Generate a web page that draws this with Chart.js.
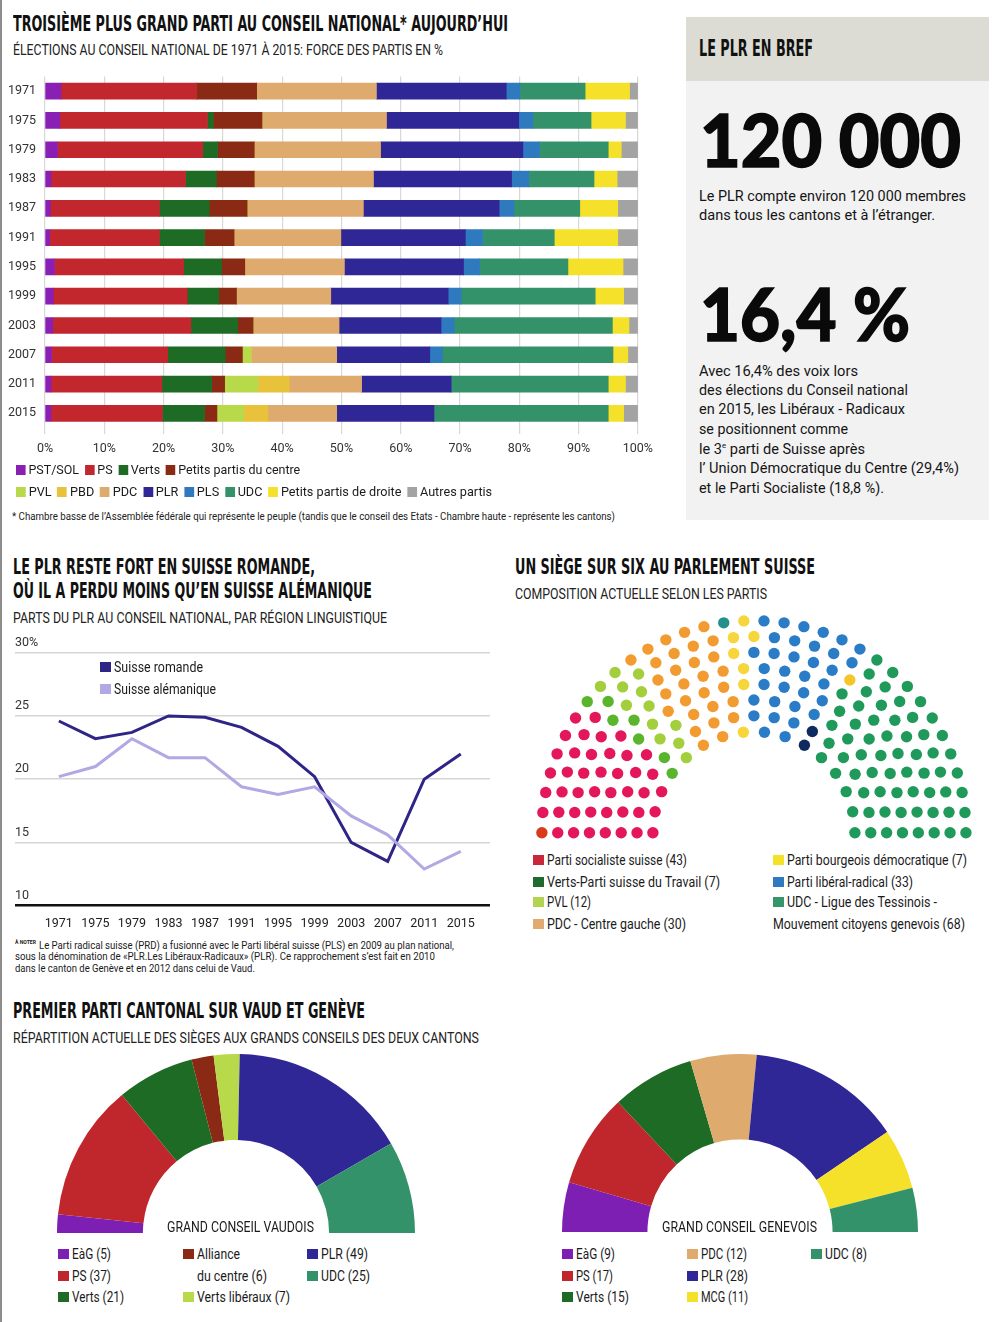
<!DOCTYPE html>
<html lang="fr">
<head>
<meta charset="utf-8">
<title>Le PLR en chiffres</title>
<script src="https://cdn.jsdelivr.net/npm/chart.js@4.4.0/dist/chart.umd.min.js"></script>
<style>
  html, body { margin: 0; padding: 0; background: #fff; }
  body { width: 1000px; height: 1322px; position: relative; overflow: hidden;
         font-family: Roboto, 'Liberation Sans', sans-serif; color: #1b1b1b; }
  .edge { position: absolute; left: 0; top: 0; width: 2px; height: 1322px; background: #8d8d8d; }
  .t { position: absolute; white-space: nowrap; line-height: 1; transform-origin: 0 50%; }
  .h { font-family: 'DejaVu Sans Condensed', 'DejaVu Sans', sans-serif; font-weight: bold; font-size: 22px; color: #111; }
  .s { font-size: 14px; color: #222; }
  .l { font-size: 14px; color: #1b1b1b; }
  .big { font-family: Lato, Inter, Roboto, sans-serif; font-size: 72px; font-weight: 900; color: #0a0a0a;
         -webkit-text-stroke: 1.5px #0a0a0a; }
  .p { font-size: 15px; color: #151515; }
  .sq { position: absolute; width: 11px; height: 10px; }
  .row { position: absolute; white-space: nowrap; line-height: 1; transform-origin: 0 50%; font-size: 13px; display: flex; align-items: center; }
  .row i { display: inline-block; width: 10px; height: 10px; margin: 0 3px 0 0; }
  .row span { margin-right: 6px; }
  canvas { position: absolute; }
  .box { position: absolute; }
</style>
</head>
<body>
<div class="edge"></div>

<!-- top: stacked bars -->
<div class="t h" style="left:13px;top:14px;font-size:21px" data-w="495">TROISIÈME PLUS GRAND PARTI AU CONSEIL NATIONAL* AUJOURD’HUI</div>
<div class="t s" style="left:13px;top:43px" data-w="430">ÉLECTIONS AU CONSEIL NATIONAL DE 1971 À 2015: FORCE DES PARTIS EN %</div>
<canvas id="bars" width="660" height="394" style="left:0;top:69px"></canvas>
<div class="row" style="left:16px;top:463px" data-w="290">
  <i style="background:#8a1fb5"></i><span>PST/SOL</span>
  <i style="background:#c1272d"></i><span>PS</span>
  <i style="background:#1e6b26"></i><span>Verts</span>
  <i style="background:#8b2a14"></i><span>Petits partis du centre</span>
</div>
<div class="row" style="left:16px;top:485px" data-w="482">
  <i style="background:#b8d94a"></i><span>PVL</span>
  <i style="background:#e8c23a"></i><span>PBD</span>
  <i style="background:#deaa6e"></i><span>PDC</span>
  <i style="background:#302796"></i><span>PLR</span>
  <i style="background:#2f79bf"></i><span>PLS</span>
  <i style="background:#34926a"></i><span>UDC</span>
  <i style="background:#f5e12a"></i><span>Petits partis de droite</span>
  <i style="background:#a3a3a3"></i><span>Autres partis</span>
</div>
<div class="t" style="left:12px;top:512px;font-size:10px;color:#222" data-w="603">* Chambre basse de l’Assemblée fédérale qui représente le peuple (tandis que le conseil des Etats - Chambre haute - représente les cantons)</div>

<!-- right panel -->
<div class="box" style="left:686px;top:17px;width:303px;height:64px;background:#dcdcd5"></div>
<div class="box" style="left:686px;top:81px;width:303px;height:439px;background:#f2f2f2"></div>
<div class="t h" style="left:699px;top:37px;font-size:23px" data-w="114">LE PLR EN BREF</div>
<div class="t big" style="left:700px;top:103px" data-w="261">120 000</div>
<div class="t p" style="left:699px;top:189px" data-w="267">Le PLR compte environ 120 000 membres</div>
<div class="t p" style="left:699px;top:208px" data-w="236">dans tous les cantons et à l’étranger.</div>
<div class="t big" style="left:700px;top:277px" data-w="210">16,4 %</div>
<div class="t p" style="left:699px;top:364px" data-w="159">Avec 16,4% des voix lors</div>
<div class="t p" style="left:699px;top:383px" data-w="209">des élections du Conseil national</div>
<div class="t p" style="left:699px;top:402px" data-w="206">en 2015, les Libéraux - Radicaux</div>
<div class="t p" style="left:699px;top:422px" data-w="149">se positionnent comme</div>
<div class="t p" style="left:699px;top:442px" data-w="166">le 3<sup style="font-size:8px">e</sup> parti de Suisse après</div>
<div class="t p" style="left:699px;top:461px" data-w="260">l’ Union Démocratique du Centre (29,4%)</div>
<div class="t p" style="left:699px;top:481px" data-w="185">et le Parti Socialiste (18,8 %).</div>

<!-- middle left: line chart -->
<div class="t h" style="left:13px;top:556px" data-w="302">LE PLR RESTE FORT EN SUISSE ROMANDE,</div>
<div class="t h" style="left:13px;top:580px" data-w="359">OÙ IL A PERDU MOINS QU’EN SUISSE ALÉMANIQUE</div>
<div class="t s" style="left:13px;top:611px" data-w="374">PARTS DU PLR AU CONSEIL NATIONAL, PAR RÉGION LINGUISTIQUE</div>
<canvas id="lines" width="490" height="305" style="left:0;top:630px"></canvas>
<div class="sq" style="left:100px;top:662px;background:#2e2586"></div>
<div class="t l" style="left:114px;top:660px" data-w="89">Suisse romande</div>
<div class="sq" style="left:100px;top:684px;background:#b1a8e4"></div>
<div class="t l" style="left:114px;top:682px" data-w="102">Suisse alémanique</div>
<div class="t" style="left:15px;top:939px;font-size:6px;font-weight:bold" data-w="21">À NOTER</div>
<div class="t" style="left:39px;top:940px;font-size:11px" data-w="415">Le Parti radical suisse (PRD) a fusionné avec le Parti libéral suisse (PLS) en 2009 au plan national,</div>
<div class="t" style="left:15px;top:951px;font-size:11px" data-w="420">sous la dénomination de «PLR.Les Libéraux-Radicaux» (PLR). Ce rapprochement s’est fait en 2010</div>
<div class="t" style="left:15px;top:963px;font-size:11px" data-w="240">dans le canton de Genève et en 2012 dans celui de Vaud.</div>

<!-- middle right: parliament -->
<div class="t h" style="left:515px;top:556px" data-w="300">UN SIÈGE SUR SIX AU PARLEMENT SUISSE</div>
<div class="t s" style="left:515px;top:587px" data-w="252">COMPOSITION ACTUELLE SELON LES PARTIS</div>
<canvas id="seats" width="470" height="235" style="left:520px;top:610px"></canvas>
<div class="sq" style="left:533px;top:855px;background:#c8283a"></div>
<div class="t l" style="left:547px;top:853px" data-w="140">Parti socialiste suisse (43)</div>
<div class="sq" style="left:533px;top:877px;background:#1f6b2d"></div>
<div class="t l" style="left:547px;top:875px" data-w="173">Verts-Parti suisse du Travail (7)</div>
<div class="sq" style="left:533px;top:897px;background:#b3d451"></div>
<div class="t l" style="left:547px;top:895px" data-w="44">PVL (12)</div>
<div class="sq" style="left:533px;top:919px;background:#e0aa70"></div>
<div class="t l" style="left:547px;top:917px" data-w="139">PDC - Centre gauche (30)</div>
<div class="sq" style="left:773px;top:855px;background:#f3e227"></div>
<div class="t l" style="left:787px;top:853px" data-w="180">Parti bourgeois démocratique (7)</div>
<div class="sq" style="left:773px;top:877px;background:#2f79be"></div>
<div class="t l" style="left:787px;top:875px" data-w="126">Parti libéral-radical (33)</div>
<div class="sq" style="left:773px;top:897px;background:#36956a"></div>
<div class="t l" style="left:787px;top:895px" data-w="150">UDC - Ligue des Tessinois -</div>
<div class="t l" style="left:773px;top:917px" data-w="192">Mouvement citoyens genevois (68)</div>

<!-- bottom: cantonal half donuts -->
<div class="t h" style="left:13px;top:1000px" data-w="352">PREMIER PARTI CANTONAL SUR VAUD ET GENÈVE</div>
<div class="t s" style="left:13px;top:1031px" data-w="466">RÉPARTITION ACTUELLE DES SIÈGES AUX GRANDS CONSEILS DES DEUX CANTONS</div>
<canvas id="vaud" width="358" height="179" style="left:57px;top:1054px"></canvas>
<canvas id="geneve" width="356" height="178" style="left:562px;top:1054px"></canvas>
<div class="t l" style="left:167px;top:1220px" data-w="147">GRAND CONSEIL VAUDOIS</div>
<div class="t l" style="left:662px;top:1220px" data-w="155">GRAND CONSEIL GENEVOIS</div>

<div class="sq" style="left:58px;top:1249px;background:#7d1fb3"></div>
<div class="t l" style="left:72px;top:1247px" data-w="39">EàG (5)</div>
<div class="sq" style="left:58px;top:1271px;background:#c0272d"></div>
<div class="t l" style="left:72px;top:1269px" data-w="39">PS (37)</div>
<div class="sq" style="left:58px;top:1292px;background:#1e6b26"></div>
<div class="t l" style="left:72px;top:1290px" data-w="52">Verts (21)</div>
<div class="sq" style="left:183px;top:1249px;background:#8b2a14"></div>
<div class="t l" style="left:197px;top:1247px" data-w="43">Alliance</div>
<div class="t l" style="left:197px;top:1269px" data-w="70">du centre (6)</div>
<div class="sq" style="left:183px;top:1292px;background:#b8d94a"></div>
<div class="t l" style="left:197px;top:1290px" data-w="93">Verts libéraux (7)</div>
<div class="sq" style="left:307px;top:1249px;background:#302796"></div>
<div class="t l" style="left:321px;top:1247px" data-w="47">PLR (49)</div>
<div class="sq" style="left:307px;top:1271px;background:#34926a"></div>
<div class="t l" style="left:321px;top:1269px" data-w="49">UDC (25)</div>

<div class="sq" style="left:562px;top:1249px;background:#7d1fb3"></div>
<div class="t l" style="left:576px;top:1247px" data-w="39">EàG (9)</div>
<div class="sq" style="left:562px;top:1271px;background:#c0272d"></div>
<div class="t l" style="left:576px;top:1269px" data-w="37">PS (17)</div>
<div class="sq" style="left:562px;top:1292px;background:#1e6b26"></div>
<div class="t l" style="left:576px;top:1290px" data-w="53">Verts (15)</div>
<div class="sq" style="left:687px;top:1249px;background:#deaa6e"></div>
<div class="t l" style="left:701px;top:1247px" data-w="46">PDC (12)</div>
<div class="sq" style="left:687px;top:1271px;background:#302796"></div>
<div class="t l" style="left:701px;top:1269px" data-w="47">PLR (28)</div>
<div class="sq" style="left:687px;top:1292px;background:#f5e12a"></div>
<div class="t l" style="left:701px;top:1290px" data-w="47">MCG (11)</div>
<div class="sq" style="left:811px;top:1249px;background:#34926a"></div>
<div class="t l" style="left:825px;top:1247px" data-w="42">UDC (8)</div>

<script>
// party strength in % (Conseil national), one array per party
const years = ['1971', '1975', '1979', '1983', '1987', '1991', '1995', '1999', '2003', '2007', '2011', '2015'];
const pstSol = [2.7, 2.5, 2.1, 1.0, 0.9, 0.8, 1.6, 1.4, 1.3, 1.1, 1.0, 1.0];
const ps = [22.9, 24.9, 24.5, 22.7, 18.4, 18.5, 21.8, 22.6, 23.3, 19.6, 18.7, 18.8];
const verts = [0, 1.0, 2.5, 5.2, 8.4, 7.6, 6.4, 5.3, 7.9, 9.7, 8.4, 7.1];
const centre = [10.1, 8.2, 6.2, 6.4, 6.4, 5.0, 3.9, 3.0, 2.6, 2.9, 2.2, 2.1];
const pvl = [0, 0, 0, 0, 0, 0, 0, 0, 0, 1.5, 5.6, 4.5];
const pbd = [0, 0, 0, 0, 0, 0, 0, 0, 0, 0, 5.3, 4.1];
const pdc = [20.2, 21.0, 21.3, 20.1, 19.6, 18.0, 16.8, 15.9, 14.5, 14.4, 12.2, 11.6];
const plr = [21.9, 22.3, 24.0, 23.3, 22.9, 21.0, 20.1, 19.8, 17.2, 15.7, 15.1, 16.4];
const pls = [2.3, 2.4, 2.8, 2.9, 2.5, 2.9, 2.7, 2.2, 2.2, 2.1, 0, 0];
const udc = [11.0, 9.8, 11.6, 11.0, 11.1, 12.1, 14.9, 22.6, 26.7, 28.8, 26.5, 29.4];
const droite = [7.5, 5.8, 2.2, 3.9, 6.4, 10.7, 9.3, 4.8, 2.8, 2.5, 2.9, 2.6];
const autres = [1.4, 2.1, 2.8, 3.5, 3.4, 3.4, 2.5, 2.4, 1.5, 1.7, 2.1, 2.4];

// PLR share by language region
const lineYears = [1971, 1975, 1979, 1983, 1987, 1991, 1995, 1999, 2003, 2007, 2011, 2015];
const romande = [24.6, 23.2, 23.7, 25.0, 24.9, 24.1, 22.6, 20.2, 15.0, 13.5, 20.0, 22.0];
const alemanique = [20.2, 21.0, 23.2, 21.7, 21.7, 19.4, 18.8, 19.4, 17.1, 15.6, 12.9, 14.3];

// seats in the Conseil national (200), left to right
const seatGroups = ['PST', 'PS', 'Verts', 'PVL', 'PDC', 'PCS', 'PBD', 'PLR', 'Lega', 'MCG', 'UDC'];
const seatCounts = [1, 42, 7, 12, 29, 1, 7, 33, 2, 1, 65];
const seatColors = ['#d93a1c', '#e3175a', '#5ab52c', '#a2cf3b', '#f29b30', '#23908c', '#f6d63a', '#2a7cc6', '#0e2a5e', '#f5c62a', '#1f9a5a'];

// cantonal parliaments
const vaudLabels = ['EàG', 'PS', 'Verts', 'Alliance du centre', 'Verts libéraux', 'PLR', 'UDC'];
const vaudSeats = [5, 37, 21, 6, 7, 49, 25];
const vaudColors = ['#7d1fb3', '#c0272d', '#1e6b26', '#8b2a14', '#b8d94a', '#302796', '#34926a'];
const geneveLabels = ['EàG', 'PS', 'Verts', 'PDC', 'PLR', 'MCG', 'UDC'];
const geneveSeats = [9, 17, 15, 12, 28, 11, 8];
const geneveColors = ['#7d1fb3', '#c0272d', '#1e6b26', '#deaa6e', '#302796', '#f5e12a', '#34926a'];

Chart.defaults.font.family = 'Roboto';
Chart.defaults.color = '#2a2a2a';
Chart.defaults.animation = false;
Chart.defaults.plugins.legend.display = false;
Chart.defaults.plugins.tooltip.enabled = false;

function fitText() {
    document.querySelectorAll('[data-w]').forEach(el => {
        const w = parseFloat(el.dataset.w);
        const cur = el.getBoundingClientRect().width;
        if (cur > 0) el.style.transform = 'scaleX(' + (w / cur) + ')';
    });
}

window.addEventListener('load', () => {
    fitText();

    // 1. stacked bars
    const partyNames = ['PST/SOL', 'PS', 'Verts', 'Petits partis du centre', 'PVL', 'PBD', 'PDC', 'PLR', 'PLS', 'UDC', 'Petits partis de droite', 'Autres partis'];
    const partySeries = [pstSol, ps, verts, centre, pvl, pbd, pdc, plr, pls, udc, droite, autres];
    const partyColors = ['#8a1fb5', '#c1272d', '#1e6b26', '#8b2a14', '#b8d94a', '#e8c23a', '#deaa6e', '#302796', '#2f79bf', '#34926a', '#f5e12a', '#a3a3a3'];

    new Chart(document.getElementById('bars'), {
        type: 'bar',
        data: {
            labels: years,
            datasets: partyNames.map((name, i) => ({
                label: name,
                data: partySeries[i],
                backgroundColor: partyColors[i],
                borderWidth: 0,
                barThickness: 16
            }))
        },
        options: {
            indexAxis: 'y',
            responsive: false,
            layout: { autoPadding: false, padding: { left: 8, right: 17, top: 7.4, bottom: 0 } },
            scales: {
                x: {
                    stacked: true, min: 0, max: 100,
                    grid: { color: '#d8d8d8', lineWidth: 1.2, tickLength: 6 },
                    border: { display: false },
                    ticks: { stepSize: 10, padding: 7, color: '#333', font: { size: 12.5 }, callback: v => v + '%' },
                    afterFit: s => { s.height = 35; }
                },
                y: {
                    stacked: true,
                    grid: { display: false, drawTicks: false },
                    border: { display: false },
                    ticks: { crossAlign: 'far', padding: 0, color: '#333', font: { size: 12.5 } },
                    afterFit: s => { s.width = 37; }
                }
            }
        }
    });

    // 2. PLR share by language region
    new Chart(document.getElementById('lines'), {
        type: 'line',
        data: {
            datasets: [
                { label: 'Suisse alémanique', data: lineYears.map((y, i) => ({ x: y, y: alemanique[i] })), borderColor: '#b1a8e4', borderWidth: 3, pointRadius: 0, tension: 0 },
                { label: 'Suisse romande', data: lineYears.map((y, i) => ({ x: y, y: romande[i] })), borderColor: '#2e2586', borderWidth: 3, pointRadius: 0, tension: 0 }
            ]
        },
        options: {
            responsive: false,
            layout: { autoPadding: false, padding: { left: 15, right: 0, top: 22.7, bottom: 0 } },
            scales: {
                x: {
                    type: 'linear', min: 1966.2, max: 2018.2,
                    grid: { display: false, drawTicks: false },
                    border: { display: false },
                    afterBuildTicks: axis => { axis.ticks = lineYears.map(v => ({ value: v })); },
                    ticks: { padding: 11, color: '#222', font: { size: 12.5 }, callback: v => String(v) },
                    afterFit: s => { s.height = 29.3; }
                },
                y: {
                    min: 10, max: 30,
                    grid: {
                        drawTicks: false,
                        color: c => c.tick.value === 10 ? '#111' : '#d6d6d6',
                        lineWidth: c => c.tick.value === 10 ? 2.5 : 1.5
                    },
                    border: { display: false },
                    ticks: { stepSize: 5, mirror: true, padding: 0, labelOffset: -10, color: '#333', font: { size: 12.5 },
                             callback: v => v === 30 ? '30%' : String(v) },
                    afterFit: s => { s.width = 0; }
                }
            }
        }
    });

    // 3. parliament: seats laid out on 8 concentric rows, filled by angle
    const seatRows = 8, innerR = 101, rowGap = 15.86;
    const total = seatCounts.reduce((a, b) => a + b, 0);
    const radii = Array.from({ length: seatRows }, (_, i) => innerR + i * rowGap);
    const sumR = radii.reduce((a, b) => a + b, 0);
    const perRow = radii.map(r => Math.round(total * r / sumR));
    perRow[seatRows - 1] += total - perRow.reduce((a, b) => a + b, 0);
    const spots = [];
    radii.forEach((r, i) => {
        const n = perRow[i];
        for (let j = 0; j < n; j++) {
            const a = Math.PI * (1 - j / (n - 1));
            spots.push({ a: a, r: r, x: r * Math.cos(a), y: r * Math.sin(a) });
        }
    });
    spots.sort((p, q) => Math.abs(q.a - p.a) > 1e-9 ? q.a - p.a : q.r - p.r);
    let k = 0;
    const seatSets = seatGroups.map((g, i) => {
        const pts = spots.slice(k, k + seatCounts[i]).map(s => ({ x: s.x, y: s.y }));
        k += seatCounts[i];
        return { label: g, data: pts, backgroundColor: seatColors[i], pointRadius: 5.7, borderWidth: 0, clip: false };
    });
    new Chart(document.getElementById('seats'), {
        type: 'scatter',
        data: { datasets: seatSets },
        options: {
            responsive: false,
            layout: { autoPadding: false, padding: 0 },
            scales: {
                x: { display: false, min: -233.9, max: 236.1 },
                y: { display: false, min: -12.3, max: 222.7 }
            }
        }
    });

    // 4. half donuts
    const halfDonut = (id, labels, seats, colors) => new Chart(document.getElementById(id), {
        type: 'doughnut',
        data: { labels: labels, datasets: [{ data: seats, backgroundColor: colors, borderWidth: 0 }] },
        options: {
            responsive: false,
            rotation: -90,
            circumference: 180,
            cutout: '52%',
            layout: { autoPadding: false, padding: 0 }
        }
    });
    halfDonut('vaud', vaudLabels, vaudSeats, vaudColors);
    halfDonut('geneve', geneveLabels, geneveSeats, geneveColors);
});
</script>
</body>
</html>
